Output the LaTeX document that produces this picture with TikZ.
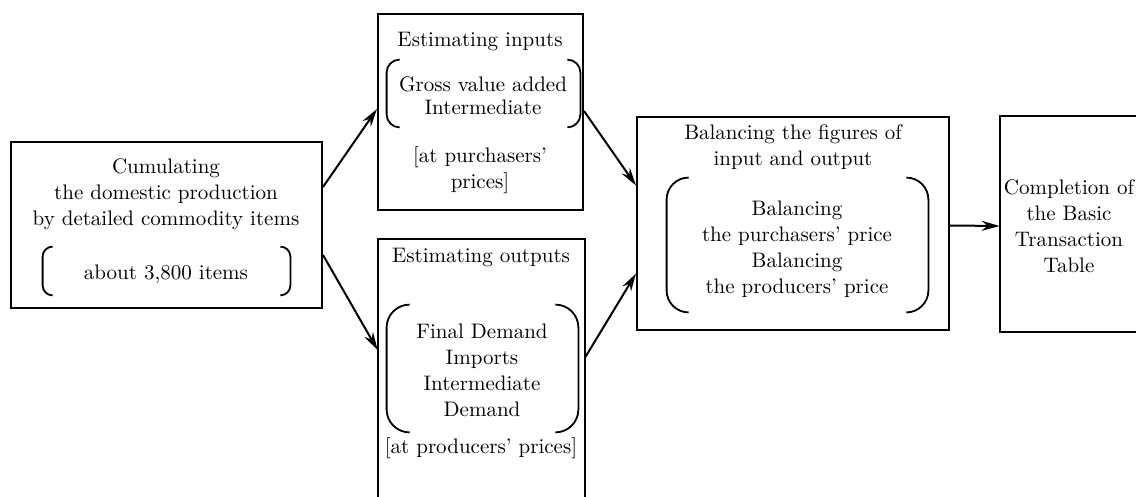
\documentclass[tikz,border=0pt]{standalone}
\usetikzlibrary{arrows.meta,fit}

\begin{document}
\begin{tikzpicture}[x=0.5pt,y=-0.5pt,
    font=\fontsize{10.5}{13}\selectfont,
    >={Stealth[length=9pt,width=5pt,inset=3pt]},
    box/.style={draw,line width=1pt,inner sep=0pt},
    openbox/.style={inner sep=0pt},
    brk/.style={inner sep=0pt},
    txt/.style={align=center,inner sep=0pt},
    flow/.style={->,line width=1pt}]

    % Page
    \useasboundingbox (0,0) rectangle (1136,497);

    % Boxes
    \node[box, fit={(11,142) (322,308)}] (cum) {};
    \node[box, fit={(378,14) (583,210)}] (inp) {};
    \node[openbox, fit={(378,239) (585,497)}] (out) {};
    \node[box, fit={(637,117) (949,330)}] (bal) {};
    \node[openbox, fit={(1000,116) (1136,332)}] (compl) {};

    % Boxes cut by the page edge
    \draw[line width=1pt] (out.south west) -- (out.north west) -- (out.north east) -- (out.south east);
    \draw[line width=1pt] (compl.north east) -- (compl.north west) -- (compl.south west) -- (compl.south east);

    % Texts
    \node[txt] (cumtxt) at (166,194) {Cumulating\\the domestic production\\by detailed commodity items};
    \node[txt] (cumitems) at (166,274) {about 3,800 items};

    \node[txt] (inptitle) at (480,42) {Estimating inputs};
    \node[txt] (inpitems) at (483,96) {Gross value added\\[-1.5pt]Intermediate};
    \node[txt] (inpprice) at (480,170) {[at purchasers'\\prices]};

    \node[txt] (outtitle) at (481,258) {Estimating outputs};
    \node[txt] (outitems) at (482,370) {Final Demand\\Imports\\Intermediate\\Demand};
    \node[txt] (outprice) at (481,448) {[at producers' prices]};

    \node[txt] (baltitle) at (793,147) {Balancing the figures of\\input and output};
    \node[txt] (balitems) at (797,249) {Balancing\\the purchasers' price\\Balancing\\the producers' price};

    \node[txt] (compltxt) at (1069,226) {Completion of\\the Basic\\Transaction\\Table};

    % Brackets
    \node[brk, fit={(43,247) (290,295)}] (cumbr) {};
    \node[brk, fit={(387,60) (580,127)}] (inpbr) {};
    \node[brk, fit={(387,305) (578,432)}] (outbr) {};
    \node[brk, fit={(667,178) (928,312)}] (balbr) {};
    \foreach \b/\r in {cumbr/5pt, inpbr/6.5pt, outbr/11.5pt, balbr/11pt} {
        \draw[line width=0.9pt, rounded corners=\r] ([xshift=\r]\b.north west) -- (\b.north west) -- (\b.south west) -- ([xshift=\r]\b.south west);
        \draw[line width=0.9pt, rounded corners=\r] ([xshift=-\r]\b.north east) -- (\b.north east) -- (\b.south east) -- ([xshift=-\r]\b.south east);
    }

    % Arrows
    \draw[flow] ([yshift=19pt]cum.east) -- ([yshift=1.5pt]inp.west);
    \draw[flow] ([yshift=-15pt]cum.east) -- ([yshift=9pt]out.west);
    \draw[flow] ([yshift=0.5pt]inp.east) -- ([yshift=19pt]bal.west);
    \draw[flow] ([yshift=5.5pt]out.east) -- ([yshift=-25pt]bal.west);
    \draw[flow] ([yshift=-1pt]bal.east) -- ([yshift=-1pt]compl.west);

\end{tikzpicture}
\end{document}
